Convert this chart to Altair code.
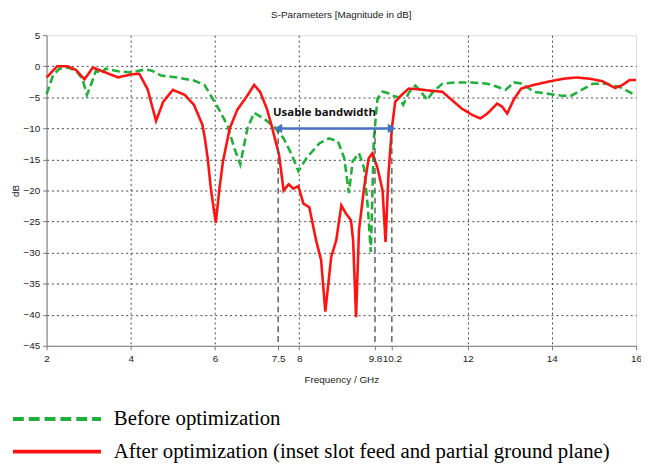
import altair as alt
import pandas as pd

# ---- data ----
red_x = [2.0, 2.25, 2.5, 2.7, 2.9, 3.1, 3.4, 3.7, 4.0, 4.2, 4.4, 4.6, 4.77, 5.0, 5.28,
         5.5, 5.7, 5.76, 5.83, 5.9, 5.97, 6.02, 6.1, 6.19, 6.35, 6.53, 6.77, 6.93, 7.07,
         7.23, 7.35, 7.52, 7.63, 7.75, 7.86, 7.98, 8.1, 8.24, 8.4, 8.52, 8.62, 8.76,
         8.88, 9.0, 9.11, 9.23, 9.28, 9.35, 9.42, 9.54, 9.65, 9.74, 9.86, 9.98, 10.05,
         10.12, 10.2, 10.28, 10.45, 10.6, 10.83, 11.07, 11.4, 11.62, 11.86, 12.1, 12.3,
         12.47, 12.7, 12.82, 12.94, 13.1, 13.27, 13.57, 13.97, 14.28, 14.58, 14.9, 15.2,
         15.5, 15.68, 15.85, 16.0]
red_y = [-1.8, 0.0, 0.0, -0.6, -2.1, -0.2, -1.0, -1.8, -1.3, -1.2, -3.7, -8.8, -5.7, -3.8, -4.6,
         -6.2, -9.4, -11.6, -15.0, -19.6, -23.0, -25.2, -20.0, -15.3, -10.0, -7.0, -4.7, -3.0, -4.1,
         -6.8, -9.7, -14.2, -20.0, -19.0, -19.7, -19.3, -22.1, -22.7, -28.0, -31.2, -39.5, -30.7,
         -28.0, -22.4, -23.7, -24.8, -28.0, -40.4, -26.4, -19.6, -14.8, -14.0, -16.4, -20.0, -28.3,
         -17.4, -10.0, -5.7, -4.5, -3.6, -3.7, -3.9, -4.1, -5.4, -6.8, -7.8, -8.4,
         -7.6, -6.0, -6.5, -7.6, -5.3, -3.6, -3.0, -2.4, -2.0, -1.8, -2.0, -2.4,
         -3.5, -3.0, -2.2, -2.2]

green_x = [2.0, 2.15, 2.3, 2.5, 2.7, 2.85, 2.96, 3.08, 3.17, 3.29, 3.4, 3.7, 4.0, 4.35, 4.5,
           4.72, 5.1, 5.5, 5.75, 5.9, 6.1, 6.3, 6.46, 6.6, 6.77, 6.93, 7.16, 7.4, 7.63, 7.82,
           7.98, 8.17, 8.48, 8.71, 8.92, 9.07, 9.18, 9.27, 9.42, 9.54, 9.63, 9.7, 9.72, 9.77,
           9.82, 9.86, 9.98, 10.1, 10.2, 10.36, 10.47, 10.6, 10.76, 10.87, 11.04, 11.18, 11.4,
           11.7, 12.1, 12.47, 12.7, 12.9, 13.1, 13.3, 13.57, 13.88, 14.2, 14.44, 14.68, 14.98,
           15.29, 15.6, 16.0]
green_y = [-4.5, -1.5, -0.4, -0.2, -0.7, -2.0, -4.6, -2.5, -0.7, -1.2, -0.4, -0.8, -1.0, -0.5, -0.7,
           -1.5, -1.8, -2.3, -3.0, -4.7, -7.0, -9.6, -13.2, -15.8, -10.0, -7.5, -8.4, -9.7, -11.6, -14.2,
           -16.9, -14.8, -12.4, -11.6, -12.1, -14.8, -20.4, -15.3, -14.0, -16.4, -22.7, -29.9, -25.3, -12.1,
           -8.0, -5.2, -4.1, -4.3, -4.7, -5.0, -6.2, -4.3, -3.1, -3.9, -5.4, -4.1, -2.8,
           -2.6, -2.6, -2.8, -3.3, -3.8, -2.6, -2.8, -4.1, -4.4, -4.7, -4.8, -3.9, -2.8,
           -2.8, -3.3, -4.7]

series_names = ["Before optimization",
                "After optimization (inset slot feed and partial ground plane)"]
series_colors = ["#1fb03a", "#ff1212"]
x_tick_values = [2, 4, 6, 7.5, 8, 9.8, 10.2, 12, 14, 16]
y_tick_values = [5, 0, -5, -10, -15, -20, -25, -30, -35, -40, -45]
marker_lines = [7.5, 9.8, 10.2]
band_start, band_end, band_level = 7.5, 10.2, -10
band_label = "Usable bandwidth"

assert len(red_x) == len(red_y) and len(green_x) == len(green_y)

rows = []
for i, (x, y) in enumerate(zip(green_x, green_y)):
    rows.append({"f": x, "db": y, "series": series_names[0], "i": i})
for i, (x, y) in enumerate(zip(red_x, red_y)):
    rows.append({"f": x, "db": y, "series": series_names[1], "i": i})
df = pd.DataFrame(rows)

xs = alt.Scale(domain=[2, 16], nice=False, zero=False)
ys = alt.Scale(domain=[-45, 5], nice=False, zero=False)

AX_FONT = "Liberation Sans"
NB = "\u00a0"

common_axis = dict(labelOverlap=False, labelFlush=False, labelFont=AX_FONT, labelFontSize=10,
                   titleFont=AX_FONT, titleFontSize=10, titleFontWeight="normal", tickSize=4,
                   domainColor="#777", tickColor="#777", labelColor="#222",
                   titleColor="#222", gridColor="#444", gridDash=[2, 3], gridWidth=1)

x_axis = alt.Axis(values=x_tick_values, title="Frequency / GHz", tickCount=20,
                  grid=True,
                  gridOpacity={"condition": {
                      "test": "datum.value == 7.5 || datum.value == 9.8 || "
                              "datum.value == 10.2 || datum.value == 2 || datum.value == 16",
                      "value": 0}, "value": 1},
                  labelExpr=f"datum.value == 9.8 ? '9.8{NB}{NB}' : "
                            f"(datum.value == 10.2 ? '{NB}{NB}10.2' : datum.value)",
                  titlePadding=11, labelPadding=4, **common_axis)
y_axis = alt.Axis(values=y_tick_values, title="dB", tickCount=20, grid=True,
                  gridOpacity={"condition": {
                      "test": "datum.value == 5 || datum.value == -45",
                      "value": 0}, "value": 1},
                  titlePadding=2, labelPadding=3, **common_axis)

lines = alt.Chart(df).mark_line(strokeWidth=2.6).encode(
    x=alt.X("f:Q", scale=xs, axis=x_axis),
    y=alt.Y("db:Q", scale=ys, axis=y_axis),
    color=alt.Color("series:N", scale=alt.Scale(domain=series_names, range=series_colors),
                    legend=None),
    strokeDash=alt.StrokeDash("series:N",
                              scale=alt.Scale(domain=series_names, range=[[8, 4], [1, 0]]),
                              legend=None),
    order="i:Q",
)

marks_df = pd.DataFrame({"f": marker_lines, "db": [band_level] * 3, "db2": [-45] * 3})
vlines = alt.Chart(marks_df).mark_rule(
    color="#555", strokeDash=[6, 4], strokeWidth=1.4).encode(
    x=alt.X("f:Q", scale=xs), y=alt.Y("db:Q", scale=ys), y2="db2:Q")

arrow_df = pd.DataFrame({"f": [band_start], "f2": [band_end], "db": [band_level]})
arrow = alt.Chart(arrow_df).mark_rule(color="#4472c4", strokeWidth=2.5).encode(
    x=alt.X("f:Q", scale=xs), x2="f2:Q", y=alt.Y("db:Q", scale=ys))
heads_df = pd.DataFrame({"f": [band_start, band_end], "db": [band_level, band_level],
                         "s": ["triangle-left", "triangle-right"]})
heads = alt.Chart(heads_df).mark_point(filled=True, color="#4472c4", size=90, opacity=1).encode(
    x=alt.X("f:Q", scale=xs), y=alt.Y("db:Q", scale=ys),
    shape=alt.Shape("s:N", scale=None, legend=None))
label = alt.Chart(pd.DataFrame({"f": [8.6], "db": [-7.6], "t": [band_label]})).mark_text(
    font="Open Sans", fontSize=11.5, fontWeight="bold", color="#111").encode(
    x=alt.X("f:Q", scale=xs), y=alt.Y("db:Q", scale=ys), text="t:N")

# ---- legend below the plot (drawn as its own small layers) ----
leg_sym_y = [388, 421]
leg_txt_y = [394, 427]
leg_sym_green = alt.Chart(pd.DataFrame({"k": [0]})).mark_rule(
    color=series_colors[0], strokeWidth=4, strokeDash=[11, 5]).encode(
    x=alt.value(-34), x2=alt.value(55), y=alt.value(leg_sym_y[0]))
leg_sym_red = alt.Chart(pd.DataFrame({"k": [0]})).mark_rule(
    color=series_colors[1], strokeWidth=4).encode(
    x=alt.value(-34), x2=alt.value(55), y=alt.value(leg_sym_y[1]))
leg_text_green = alt.Chart(pd.DataFrame({"t": [series_names[0]]})).mark_text(
    font="Liberation Serif", fontSize=21, color="#000", align="left",
    baseline="alphabetic").encode(x=alt.value(68), y=alt.value(leg_txt_y[0]), text="t:N")
leg_text_red = alt.Chart(pd.DataFrame({"t": [series_names[1]]})).mark_text(
    font="Liberation Serif", fontSize=21, color="#000", align="left",
    baseline="alphabetic").encode(x=alt.value(68), y=alt.value(leg_txt_y[1]), text="t:N")

chart = alt.layer(lines, vlines, arrow, heads, label,
                  leg_sym_green, leg_sym_red, leg_text_green, leg_text_red).properties(
    width=596, height=314,
    title=alt.TitleParams("S-Parameters [Magnitude in dB]", font=AX_FONT, fontSize=10,
                          fontWeight="normal", color="#222", offset=10, anchor="middle"),
    autosize="none",
    padding={"left": 39, "top": 25, "right": 5, "bottom": 118},
).configure_view(stroke="#888", strokeWidth=1.2).configure(background="white")

chart.save("out.html", embed_options={"renderer": "svg", "actions": False})
